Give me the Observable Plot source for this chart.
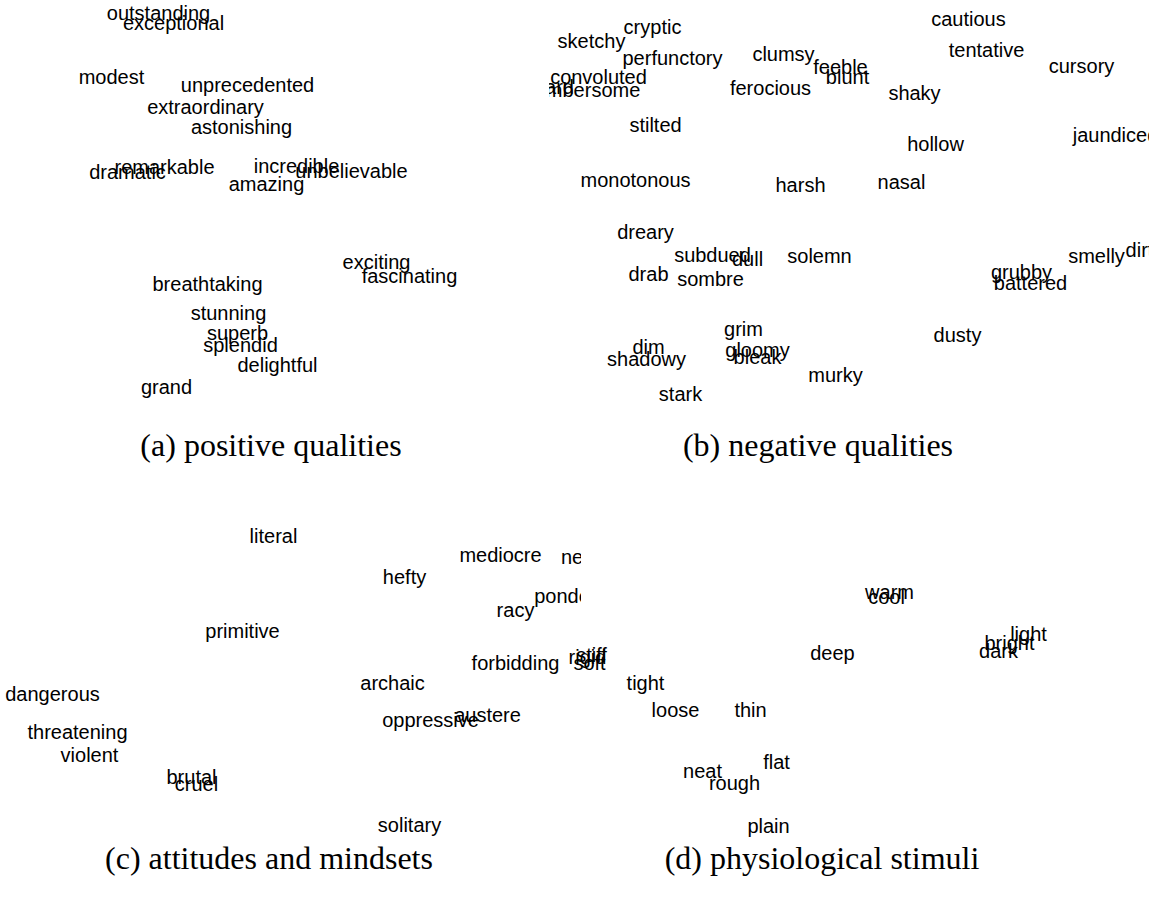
<!DOCTYPE html>
<html>
<head>
<meta charset="utf-8">
<script src="https://cdn.jsdelivr.net/npm/d3@7"></script>
<script src="https://cdn.jsdelivr.net/npm/@observablehq/plot@0.6"></script>
<style>
  html, body { margin: 0; padding: 0; background: #fff; overflow: hidden; }
  #wrap { position: relative; width: 1149px; height: 905px; background: #fff; }
  .cap { position: absolute; font-family: "Liberation Serif", "Times New Roman", serif; font-size: 32px; line-height: 32px; white-space: nowrap; color: #000; transform: translateX(-50%); }
</style>
</head>
<body>
<div id="wrap"></div>
<script>
// ---- Data: words and their positions on the projection ----
const wordsA = ["outstanding","exceptional","modest","unprecedented","extraordinary","astonishing","dramatic","remarkable","incredible","unbelievable","amazing","exciting","fascinating","breathtaking","stunning","superb","splendid","delightful","grand"];
const xA = [158,173,111,247,205,241,127,164,296,351,266,376,409,207,228,237,240,277,166];
const yA = [13,23,77,85,107,127,172,167,166,171,184,262,276,284,313,333,345,365,387];

const wordsB = ["sketchy","cryptic","perfunctory","convoluted","cumbersome","awkward","clumsy","feeble","blunt","ferocious","stilted","monotonous","harsh","cautious","tentative","cursory","shaky","hollow","jaundiced","nasal","dreary","subdued","dull","solemn","drab","sombre","grim","dim","shadowy","gloomy","bleak","murky","stark","smelly","dirty","grubby","battered","dusty"];
const xB = [591,652,672,598,582,534,783,840,847,770,655,635,800,968,986,1081,914,935,1115,901,645,712,747,819,648,710,743,648,646,757,757,835,680,1096,1144,1021,1030,957];
const yB = [41,27,58,77,90,87,54,67,77,88,125,180,185,19,50,66,93,144,135,182,232,255,259,256,274,279,329,347,359,350,357,375,394,256,250,272,283,335];

const wordsC = ["literal","primitive","dangerous","threatening","violent","brutal","cruel","hefty","mediocre","neurotic","racy","ponderous","forbidding","archaic","oppressive","austere","solitary"];
const xC = [273,242,52,77,89,191,196,404,500,596,515,581,515,392,430,487,409];
const yC = [536,631,694,732,755,777,784,577,555,557,610,596,663,683,720,715,825];

const wordsD = ["rigid","stiff","soft","tight","loose","thin","deep","neat","rough","flat","plain","dark","bright","light","warm","cool"];
const xD = [587,591,589,645,675,750,832,702,734,776,768,998,1009,1028,889,886];
const yD = [657,655,663,683,710,710,653,771,783,762,826,651,643,634,592,597];

const captions = ["(a) positive qualities","(b) negative qualities","(c) attitudes and mindsets","(d) physiological stimuli"];

// ---- Panels ----
const wrap = document.getElementById("wrap");

function panel(words, xs, ys, box, clip) {
  const data = words.map((w, i) => ({word: w, u: xs[i], v: ys[i]}));
  const svg = Plot.plot({
    width: box.w,
    height: box.h,
    margin: 0,
    x: {domain: [box.x, box.x + box.w], range: [0, box.w], axis: null},
    y: {domain: [box.y, box.y + box.h], range: [0, box.h], axis: null},
    marks: [
      Plot.text(data, {x: "u", y: "v", text: "word", fontSize: 20, fill: "#000", textAnchor: "middle"})
    ]
  });
  svg.style.position = "absolute";
  svg.style.left = box.x + "px";
  svg.style.top = box.y + "px";
  svg.style.background = "transparent";
  svg.style.overflow = clip ? "hidden" : "visible";
  svg.style.maxWidth = "none";
  svg.style.fontFamily = "'Liberation Sans', Arial, Helvetica, sans-serif";
  wrap.appendChild(svg);
}

panel(wordsA, xA, yA, {x: 0, y: 0, w: 549, h: 410}, false);
panel(wordsB, xB, yB, {x: 549, y: 0, w: 600, h: 410}, true);
panel(wordsC, xC, yC, {x: 0, y: 490, w: 581, h: 350}, true);
panel(wordsD, xD, yD, {x: 560, y: 490, w: 589, h: 350}, false);

// ---- Captions ----
const capPos = [[271, 429], [818, 429], [269, 842], [822, 842]];
captions.forEach((t, i) => {
  const d = document.createElement("div");
  d.className = "cap";
  d.textContent = t;
  d.style.left = capPos[i][0] + "px";
  d.style.top = capPos[i][1] + "px";
  wrap.appendChild(d);
});
</script>
</body>
</html>
